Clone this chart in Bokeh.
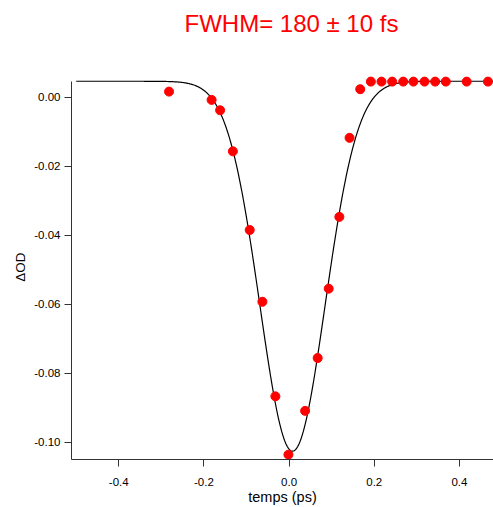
import numpy as np
from bokeh.plotting import figure
from bokeh.models import Range1d, FixedTicker, NumeralTickFormatter, ColumnDataSource, LinearAxis
from bokeh.embed import file_html
from bokeh.resources import INLINE

# Measured data points (delay in ps, ΔOD)
t_ps = [-0.282, -0.182, -0.162, -0.132, -0.0925, -0.0627, -0.0322, -0.0016,
        0.0376, 0.0671, 0.093, 0.118, 0.142, 0.167, 0.192, 0.217, 0.242,
        0.268, 0.292, 0.318, 0.343, 0.368, 0.417, 0.467]
delta_od = [0.0016, -0.0008, -0.0038, -0.0157, -0.0385, -0.0593, -0.0867, -0.1036,
            -0.0909, -0.0756, -0.0555, -0.0347, -0.0118, 0.0023, 0.0045, 0.0045, 0.0045,
            0.0045, 0.0045, 0.0045, 0.0045, 0.0045, 0.0045, 0.0045]

# Gaussian fit parameters
fit_fwhm = 0.18        # ps
fit_center = 0.008     # ps
fit_baseline = 0.0046
fit_amplitude = -0.1072
fit_t_start, fit_t_end = -0.5, 0.48

x_ticks = [-0.4, -0.2, 0.0, 0.2, 0.4]
y_ticks = [0.0, -0.02, -0.04, -0.06, -0.08, -0.10]

title_text = "FWHM= 180 ± 10 fs"

sigma = fit_fwhm / (2 * np.sqrt(2 * np.log(2)))
t_fit = np.linspace(fit_t_start, fit_t_end, 600)
od_fit = fit_baseline + fit_amplitude * np.exp(-(t_fit - fit_center) ** 2 / (2 * sigma ** 2))

FONT = "Liberation Sans"

p = figure(width=493, height=507, output_backend="svg", toolbar_location=None,
           x_range=Range1d(-0.511, 0.48), y_range=Range1d(-0.105, 0.00656),
           min_border_left=71, min_border_right=0, min_border_top=74, min_border_bottom=47,
           title=title_text)
p.outline_line_color = None
p.grid.visible = False
p.background_fill_color = "white"
p.border_fill_color = "white"

p.title.text_color = "#ff0000"
p.title.text_font = FONT
p.title.text_font_size = "24px"
p.title.text_font_style = "normal"
p.title.align = "left"
p.title.offset = 113
p.title.standoff = 10

p.line(t_fit, od_fit, line_color="black", line_width=1.2)
src = ColumnDataSource(dict(t=t_ps, od=delta_od))
p.scatter("t", "od", source=src, size=9, fill_color="#ff0000", line_color="#ff0000")

xa = p.below[0]
ya = p.left[0]
for ax in (xa, ya):
    ax.axis_line_color = "#333333"
    ax.axis_line_width = 1
    ax.major_tick_line_color = "#333333"
    ax.major_tick_in = 0
    ax.major_tick_out = 7
    ax.minor_tick_in = 0
    ax.minor_tick_out = 0
    ax.major_label_text_font = FONT
    ax.major_label_text_font_size = "11.5px"
    ax.major_label_text_color = "black"
    ax.axis_label_text_font = FONT
    ax.axis_label_text_font_style = "normal"
    ax.axis_label_text_color = "black"

xa.ticker = FixedTicker(ticks=x_ticks)
xa.formatter = NumeralTickFormatter(format="0.0")
xa.axis_label = "temps (ps)"
xa.axis_label_text_font_size = "14.5px"
xa.major_label_standoff = 11
xa.axis_label_standoff = 0

ya.ticker = FixedTicker(ticks=y_ticks)
ya.formatter = NumeralTickFormatter(format="0.00")
ya.bounds = (-0.105, 0.0045)
ya.axis_label = "ΔOD"
ya.axis_label_text_font_size = "13.5px"
ya.major_label_standoff = 4
ya.axis_label_standoff = 3

# invisible spacer axis above the frame (blank label), so the title sits higher
spacer = LinearAxis(ticker=FixedTicker(ticks=[]), axis_line_color=None,
                    major_tick_line_color=None, minor_tick_line_color=None,
                    major_tick_in=0, major_tick_out=0, minor_tick_in=0, minor_tick_out=0,
                    major_label_standoff=0, axis_label=" ",
                    axis_label_text_font=FONT, axis_label_text_font_size="10px",
                    axis_label_text_color="white", axis_label_standoff=19)
p.add_layout(spacer, "above")

open("out.html", "w").write(file_html(p, INLINE))
